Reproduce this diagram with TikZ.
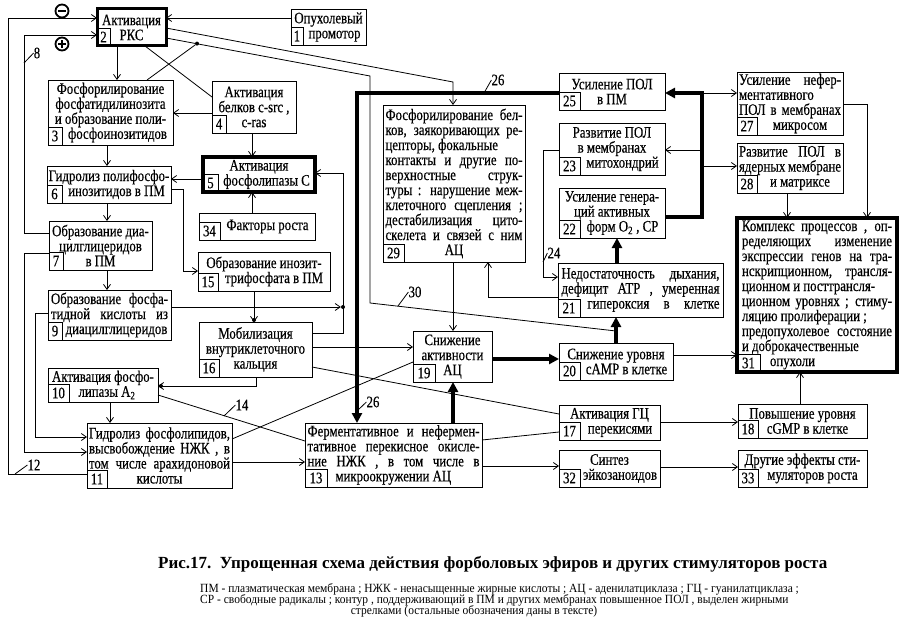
\documentclass[tikz,border=0pt]{standalone}
\usepackage{fontspec}
\setmainfont{Liberation Serif}[FakeStretch=0.8,FakeBold=0.4]
\newfontfamily\capfont{Liberation Serif}
\newfontfamily\capfontn{Liberation Serif}[FakeStretch=0.92]
\usetikzlibrary{arrows.meta,fit,calc}
\newcommand\bxfont{\fontsize{16}{15}\selectfont\lineskiplimit=-20pt}
\newcommand\jst[2]{\makebox[#1pt][s]{#2}}
\newcommand\lft[2]{\makebox[#1pt][l]{#2}}
\newcommand\bx[8]{%
  \node[#6, fit={(#2,#3) (#4,#5)}] (#1) {};
  \node[num, minimum width=#8pt] (#1n) at (#1.south west) {#7};}
\tikzset{
  box/.style={draw, line width=0.9pt, inner sep=0pt, outer sep=0pt},
  tbox/.style={draw, line width=3pt, inner sep=0pt, outer sep=0pt},
  txt/.style={align=center, inner sep=0pt, font=\bxfont},
  num/.style={draw, line width=0.8pt, anchor=south west, inner sep=0pt, outer sep=0pt, minimum height=18pt, font=\bxfont},
  ln/.style={line width=0.8pt},
  arr/.style={ln, -{Straight Barb[length=5pt,width=7pt]}},
  fat/.style={line width=3.5pt},
  fatarr/.style={fat, -{Triangle[length=10pt,width=10pt]}},
  dot/.style={circle, fill, inner sep=0pt, minimum size=4pt},
  lab/.style={font=\bxfont, inner sep=0pt},
  sign/.style={circle, draw, line width=1.8pt, minimum size=13pt, inner sep=0pt},
  signbar/.style={line width=1.8pt},
  captitle/.style={anchor=west, inner sep=0pt, font=\capfont\bfseries\fontsize{17}{17}\selectfont},
  captxt/.style={anchor=west, inner sep=0pt, font=\capfontn\fontsize{12.5}{12}\selectfont},
}
\begin{document}
\begin{tikzpicture}[x=1pt,y=-1pt]
\fill[white] (0,0) rectangle (903,626);
\useasboundingbox (0,0) rectangle (903,626);

% boxes
\bx{b1}{291}{9}{366}{45}{box}{1}{12}
\bx{b2}{97}{9}{166}{46}{tbox}{2}{13}
\bx{b3}{48}{80}{173}{145}{box}{3}{14}
\bx{b4}{212}{81}{296}{133}{box}{4}{14}
\bx{b5}{203}{157}{315}{192}{tbox,line width=3.5pt}{5}{15}
\bx{b34}{199}{213}{315}{240}{box}{34}{21}
\bx{b6}{47}{166}{171}{203}{box}{6}{15}
\bx{b7}{49}{221}{152}{270}{box}{7}{14}
\bx{b15}{198}{252}{330}{291}{box}{15}{20}
\bx{b9}{48}{290}{171}{340}{box}{9}{14}
\bx{b16}{199}{322}{312}{377}{box}{16}{20}
\bx{b10}{48}{368}{158}{402}{box}{10}{21}
\bx{b11}{87}{423}{232}{488}{box}{11}{20}
\bx{b13}{305}{423}{482}{487}{box}{13}{22}
\bx{b19}{413}{331}{492}{382}{box}{19}{22}
\bx{b29}{383}{105}{525}{262}{box}{29}{21}
\bx{b25}{559}{73}{665}{110}{box}{25}{21}
\bx{b23}{559}{123}{665}{175}{box}{23}{21}
\bx{b22}{559}{188}{665}{238}{box}{22}{21}
\bx{b21}{558}{263}{723}{317}{box}{21}{22}
\bx{b27}{737}{72}{843}{135}{box}{27}{20}
\bx{b28}{737}{143}{843}{193}{box}{28}{20}
\bx{b31}{737}{218}{897}{372}{tbox,line width=4pt}{31}{23}
\bx{b20}{559}{343}{673}{380}{box}{20}{21}
\bx{b17}{559}{405}{660}{440}{box}{17}{21}
\bx{b18}{738}{404}{867}{438}{box}{18}{20}
\bx{b32}{559}{450}{660}{487}{box}{32}{21}
\bx{b33}{738}{450}{867}{487}{box}{33}{20}

% texts
\node[txt] (b1t) at (b1) {Опухолевый\\\hspace*{12pt}промотор};
\node[txt] (b2t) at (b2) {Активация\\РКС};
\node[txt] (b3t) at (b3) {Фосфорилирование\\фосфатидилинозита\\и образование поли-\\\hspace*{14pt}фосфоинозитидов};
\node[txt] (b4t) at (b4) {Активация\\белков c-src ,\\c-ras};
\node[txt] (b5t) at (b5) {Активация\\\hspace*{15pt}фосфолипазы С};
\node[txt] (b34t) at (b34) {\hspace*{21pt}Факторы роста};
\node[txt] (b6t) at (b6) {Гидролиз полифосфо-\\\hspace*{15pt}инозитидов в ПМ};
\node[txt] (b7t) at (b7) {Образование диа-\\цилглицеридов\\в ПМ};
\node[txt] (b15t) at (b15) {Образование инозит-\\\hspace*{20pt}трифосфата в ПМ};
\node[txt] (b9t) at (b9) {\jst{117}{Образование фосфа-}\\\jst{117}{тидной кислоты из}\\\hspace*{14pt}диацилглицеридов};
\node[txt] (b16t) at (b16) {Мобилизация\\внутриклеточного\\кальция};
\node[txt] (b10t) at (b10) {Активация фосфо-\\\hspace*{8pt}липазы A\textsubscript{2}};
\node[txt] (b11t) at (b11) {\jst{141}{Гидролиз фосфолипидов,}\\\jst{141}{высвобождение НЖК , в}\\\jst{141}{том числе арахидоновой}\\кислоты};
\node[txt] (b13t) at (b13) {\jst{172}{Ферментативное и нефермен-}\\\jst{172}{тативное перекисное окисле-}\\\jst{172}{ние НЖК , в том числе в}\\\lft{172}{\hspace*{28pt}микроокружении АЦ}};
\node[txt] (b19t) at (b19) {Снижение\\активности\\АЦ};
\node[txt] (b29t) at (b29) {\jst{137}{Фосфорилирование бел-}\\\jst{137}{ков, заякоривающих ре-}\\\lft{137}{цепторы, фокальные}\\\jst{137}{контакты и другие по-}\\\jst{137}{верхностные струк-}\\\jst{137}{туры : нарушение меж-}\\\jst{137}{клеточного сцепления ;}\\\jst{137}{дестабилизация цито-}\\\jst{137}{скелета и связей с ним}\\АЦ};
\node[txt] (b25t) at (b25) {Усиление ПОЛ\\в ПМ};
\node[txt] (b23t) at (b23) {Развитие ПОЛ\\в мембранах\\\hspace*{21pt}митохондрий};
\node[txt] (b22t) at (b22) {Усиление генера-\\ций активных\\\hspace*{21pt}форм O\textsubscript{2} , СР};
\node[txt] (b21t) at (b21) {\jst{158}{Недостаточность дыхания,}\\\jst{158}{дефицит ATP , умеренная}\\\makebox[158pt][r]{\jst{132}{гипероксия в клетке}}};
\node[txt] (b27t) at (b27) {\jst{102}{Усиление нефер-}\\\lft{102}{ментативного}\\\jst{102}{ПОЛ в мембранах}\\\hspace*{20pt}микросом};
\node[txt] (b28t) at (b28) {\jst{102}{Развитие ПОЛ в}\\\jst{102}{ядерных мембране}\\\hspace*{20pt}и матриксе};
\node[txt] (b31t) at (b31) {\jst{150}{Комплекс процессов , оп-}\\\jst{150}{ределяющих изменение}\\\jst{150}{экспрессии генов на тра-}\\\jst{150}{нскрипционном, трансля-}\\\lft{150}{ционном и посттрансля-}\\\jst{150}{ционном уровнях ; стиму-}\\\lft{150}{ляцию пролиферации ;}\\\jst{150}{предопухолевое состояние}\\\lft{150}{и доброкачественные}\\\lft{150}{\hspace*{28pt}опухоли}};
\node[txt] (b20t) at (b20) {Снижение уровня\\\hspace*{21pt}cAMP в клетке};
\node[txt] (b17t) at (b17) {Активация ГЦ\\\hspace*{21pt}перекисями};
\node[txt] (b18t) at (b18) {Повышение уровня\\\hspace*{10pt}cGMP в клетке};
\node[txt] (b32t) at (b32) {Синтез\\\hspace*{21pt}эйкозаноидов};
\node[txt] (b33t) at (b33) {Другие эффекты сти-\\\hspace*{20pt}муляторов роста};

% junction points
\node[dot] (d1) at (197,43.6) {};
\node[dot] (d2) at (343,307) {};
\node[dot] (d3) at (254,320) {};
\node[dot] (d4) at (161,386) {};
\coordinate (j30) at (616,331);

% thin connectors
\draw[arr] (b1.west |- 0,18) -- (b2.east |- 0,18);
\draw[arr] (b11.west |- 0,474) -- (8,474) -- (8,18) -- (b2.west |- 0,18);
\draw[arr] (b7.west |- 0,233) -- (24,233) -- (24,35) -- (b2.west |- 0,35);
\draw[arr] (b2.south -| 117,0) -- (b3.north -| 117,0);
\draw[ln] (b2.south -| 145,0) -- (b4.west |- 0,97);
\draw[arr] (b2.east |- 0,28) -- (453,82) -- (b29.north -| 453,0);
\draw[ln] (b2.east |- 0,38) -- (370,76) -- (370,303) -- (j30);
\draw[ln] (b3.north -| 147,0) -- (d1);
\draw[arr] (b4.west |- 0,113) -- (b3.east |- 0,113);
\draw[arr] (b4.south -| 252,0) -- (b5.north -| 252,0);
\draw[arr] (b3.south -| 107,0) -- (b6.north -| 107,0);
\draw[arr] (b5.west |- 0,179) -- (b6.east |- 0,179);
\draw[arr] (b34.north -| 252,0) -- (b5.south -| 252,0);
\draw[arr] (b6.east |- 0,189) -- (183,189) -- (183,271) -- (b15.west |- 0,271);
\draw[arr] (b6.south -| 107,0) -- (b7.north -| 107,0);
\draw[arr] (b7.south -| 107,0) -- (b9.north -| 107,0);
\draw[arr] (b9.east |- 0,307) -- (d2.west);
\draw[arr] (b16.east |- 0,333) -- (343,333) -- (343,173) -- (b5.east |- 0,173);
\draw[arr] (b15.south -| 254,0) -- (b16.north -| 254,0);
\draw[arr] (b16.south -| 256,0) -- (256,386) -- (b10.east |- 0,386);
\draw[arr] (b9.west |- 0,313) -- (35,313) -- (35,437) -- (b11.west |- 0,437);
\draw[arr] (b7.west |- 0,253) -- (24,253) -- (24,452) -- (b11.west |- 0,452);
\draw[arr] (b10.south -| 110,0) -- (b11.north -| 110,0);
\draw[ln] (b10.east |- 0,395) -- (b13.west |- 0,441);
\draw[arr] (b11.east |- 0,462) -- (b13.west |- 0,462);
\draw[ln] (b11.east |- 0,439) -- (b19.west |- 0,362);
\draw[arr] (b16.east |- 0,347) -- (b19.west |- 0,347);
\draw[ln] (b16.east |- 0,367) -- (b17.west |- 0,414);
\draw[ln] (b13.east |- 0,440) -- (b17.west |- 0,432);
\draw[arr] (b13.east |- 0,466) -- (b32.west |- 0,466);
\draw[arr] (b29.south -| 453,0) -- (b19.north -| 453,0);
\draw[arr] (b21.west |- 0,297) -- (488,297) -- (b29.south -| 488,0);
\draw[arr] (b23.west |- 0,150) -- (543,150) -- (543,277) -- (b21.west |- 0,277);
\coordinate (k1) at (702,93);
\coordinate (k2) at (702,150);
\coordinate (k3) at (702,166);
\draw[arr] (k1) -- (b27.west |- k1);
\draw[arr] (k2) -- (b23.east |- k2);
\draw[arr] (k3) -- (b28.west |- k3);
\draw[arr] (b27.east |- 0,104) -- (867,104) -- (b31.north -| 867,0);
\draw[arr] (b28.south -| 787,0) -- (b31.north -| 787,0);
\draw[arr] (b20.east |- 0,355) -- (b31.west |- 0,355);
\draw[arr] (b18.north -| 800,0) -- (b31.south -| 800,0);
\draw[arr] (b17.east |- 0,422) -- (b18.west |- 0,422);
\draw[arr] (b32.east |- 0,467) -- (b33.west |- 0,467);

% bold connectors
\draw[fatarr] (b13.north -| 453,0) -- (b19.south -| 453,0);
\draw[fatarr] (b19.east |- 0,359) -- (b20.west |- 0,359);
\draw[fatarr] (b20.north -| 616,0) -- (b21.south -| 616,0);
\draw[fatarr] (b21.north -| 617,0) -- (b22.south -| 617,0);
\draw[fatarr] (b22.east |- 0,217) -- (702,217) -- (k1) -- (b25.east |- k1);
\draw[fatarr] (b25.west |- k1) -- (357,93) -- (b13.north -| 357,0);

% signs and labels
\node[sign] (sm) at (62,11) {};
\draw[signbar] ([xshift=-4pt]sm.center) -- ([xshift=4pt]sm.center);
\node[sign] (sp) at (62,44) {};
\draw[signbar] ([xshift=-4pt]sp.center) -- ([xshift=4pt]sp.center);
\draw[signbar] ([yshift=-4pt]sp.center) -- ([yshift=4pt]sp.center);
\node[lab] (l8) at (37,53) {8};
\draw[ln] (24,63) -- (l8.west);
\node[lab] (l12) at (34,465) {12};
\draw[ln] (15,474) -- (l12.west);
\node[lab] (l14) at (242,405) {14};
\draw[ln] (224,416) -- (l14.west);
\node[lab] (l26a) at (498,80) {26};
\draw[ln] (484,93) -- (l26a.west);
\node[lab] (l26b) at (373,402) {26};
\draw[ln] (357,411) -- (l26b.west);
\node[lab] (l24) at (554,253) {24};
\draw[ln] (543,262) -- (l24.west);
\node[lab] (l30) at (415,292) {30};
\draw[ln] (398,306) -- (l30.west);

% caption
\node[captitle] (cap) at (158,564) {Рис.17.\ \ Упрощенная схема действия форболовых эфиров и других стимуляторов роста};
\node[captxt] (c1) at (200,589) {ПМ - плазматическая мембрана ; НЖК - ненасыщенные жирные кислоты ; АЦ - аденилатциклаза ; ГЦ - гуанилатциклаза ;};
\node[captxt] (c2) at (200,600) {СР - свободные радикалы ; контур , поддерживающий в ПМ и других мембранах повышенное ПОЛ , выделен жирными};
\node[captxt, anchor=center] (c3) at (474,611) {стрелками (остальные обозначения даны в тексте)};
\end{tikzpicture}
\end{document}
